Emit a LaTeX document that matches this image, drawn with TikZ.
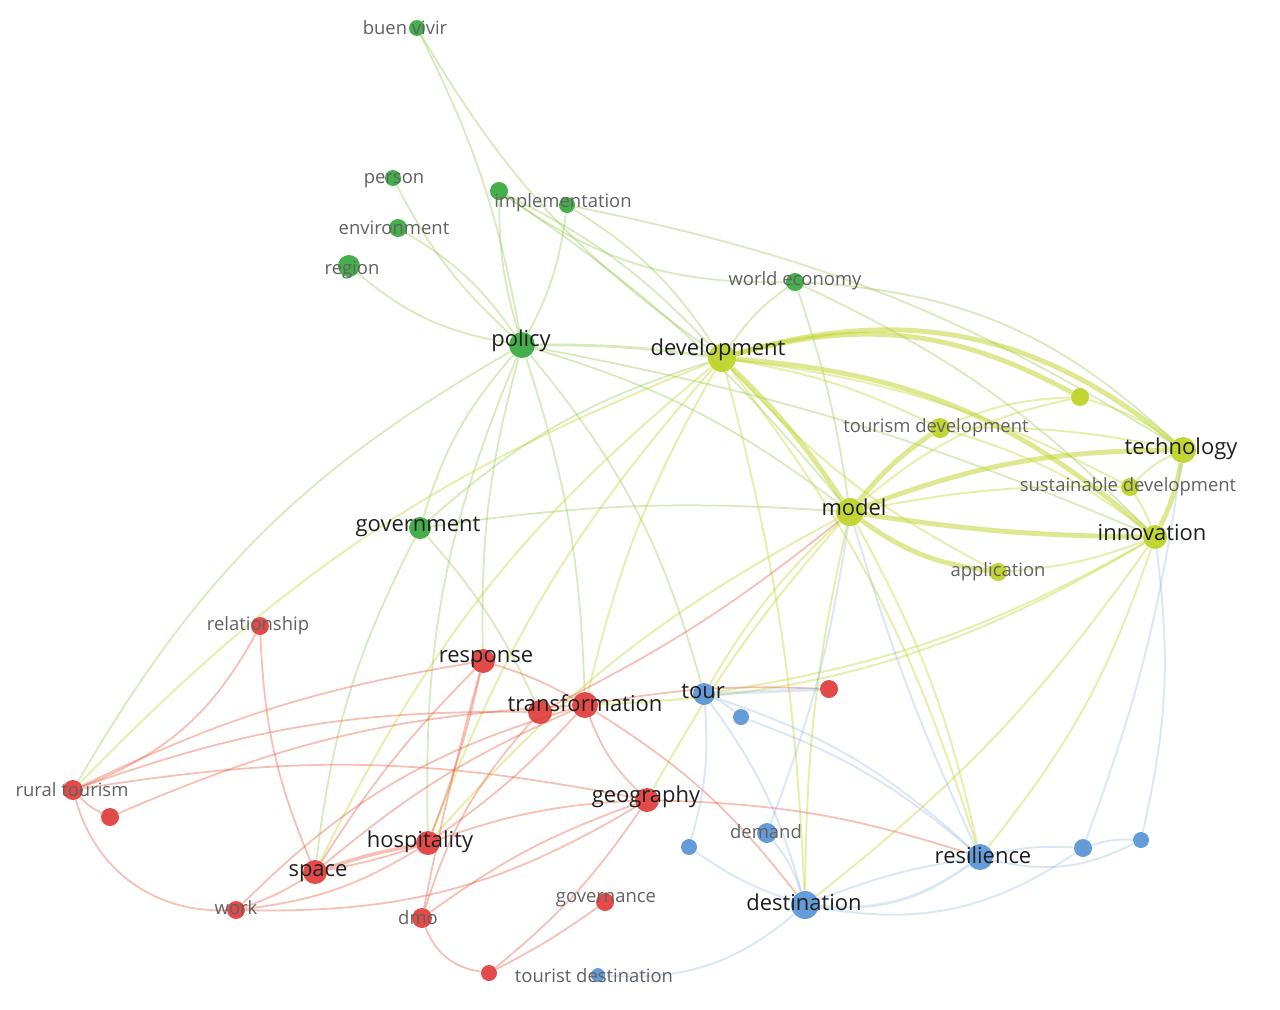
\documentclass[tikz,border=0pt]{standalone}
\usepackage{fontspec}
\setmainfont{Open Sans}
\definecolor{vgreen}{RGB}{52,168,60}
\definecolor{vyellow}{RGB}{188,210,36}
\definecolor{vred}{RGB}{224,60,58}
\definecolor{vblue}{RGB}{88,148,212}
\pgfdeclarelayer{bg}
\pgfsetlayers{bg,main}
\tikzset{
  kw/.style={circle, inner sep=0pt, minimum size=#1, fill opacity=.92},
  gk/.style={kw=#1, fill=vgreen},
  yk/.style={kw=#1, fill=vyellow},
  rk/.style={kw=#1, fill=vred},
  bk/.style={kw=#1, fill=vblue},
  lbig/.style={font=\fontsize{12.5}{14}\selectfont, text=black!88, inner sep=0pt},
  lsmall/.style={font=\fontsize{10.5}{12}\selectfont, text=black!62, inner sep=0pt},
  ge/.style={draw=vgreen!45!vyellow, line width=1pt, opacity=.32},
  ye/.style={draw=vyellow!90, line width=1.1pt, opacity=.42},
  yt/.style={draw=vyellow, line width=2.8pt, opacity=.5},
  re/.style={draw=vred!75!orange, line width=1pt, opacity=.36},
  be/.style={draw=vblue!80, line width=1.1pt, opacity=.28}
}
\begin{document}
\begin{tikzpicture}[x=0.02cm, y=-0.02cm]
  \useasboundingbox (0,0) rectangle (1280,1009);
  % green cluster
  \node[gk=.32cm] (buenvivir) at (417,28) {};
  \node[gk=.32cm] (person) at (393,178) {};
  \node[gk=.36cm] (implA) at (499,191) {};
  \node[gk=.32cm] (implB) at (567,205) {};
  \node[gk=.36cm] (environment) at (398,228) {};
  \node[gk=.44cm] (region) at (349,266) {};
  \node[gk=.36cm] (worldeconomy) at (795,282) {};
  \node[gk=.52cm] (policy) at (522,345) {};
  \node[gk=.44cm] (government) at (420,528) {};
  % yellow cluster
  \node[yk=.56cm] (development) at (722,358) {};
  \node[yk=.36cm] (ylone) at (1080,397) {};
  \node[yk=.40cm] (tourismdev) at (940,428) {};
  \node[yk=.52cm] (technology) at (1183,450) {};
  \node[yk=.36cm] (sustdev) at (1130,487) {};
  \node[yk=.56cm] (model) at (850,512) {};
  \node[yk=.48cm] (innovation) at (1155,537) {};
  \node[yk=.36cm] (application) at (998,572) {};
  % red cluster
  \node[rk=.36cm] (relationship) at (260,626) {};
  \node[rk=.48cm] (response) at (483,661) {};
  \node[rk=.48cm] (transA) at (540,712) {};
  \node[rk=.52cm] (transB) at (585,705) {};
  \node[rk=.36cm] (rlone) at (829,689) {};
  \node[rk=.40cm] (ruraltourism) at (73,790) {};
  \node[rk=.36cm] (rsmall) at (110,817) {};
  \node[rk=.48cm] (geography) at (647,800) {};
  \node[rk=.48cm] (hospitality) at (428,843) {};
  \node[rk=.48cm] (space) at (315,872) {};
  \node[rk=.36cm] (work) at (236,910) {};
  \node[rk=.40cm] (dmo) at (422,918) {};
  \node[rk=.36cm] (governance) at (605,902) {};
  \node[rk=.32cm] (tdred) at (489,973) {};
  % blue cluster
  \node[bk=.44cm] (tour) at (704,694) {};
  \node[bk=.32cm] (bsmall) at (741,717) {};
  \node[bk=.32cm] (bleft) at (689,847) {};
  \node[bk=.40cm] (demand) at (767,833) {};
  \node[bk=.52cm] (resilience) at (980,857) {};
  \node[bk=.36cm] (bright) at (1083,848) {};
  \node[bk=.32cm] (bfar) at (1141,840) {};
  \node[bk=.56cm] (destination) at (805,905) {};
  \node[bk=.28cm] (tdblue) at (598,975) {};

  \begin{pgfonlayer}{bg}
    % green links
    \draw[ge] (buenvivir) to[bend left=8] (policy);
    \draw[ge] (buenvivir) to[bend right=12] (development);
    \draw[ge] (implA) to[bend right=8] (policy);
    \draw[ge] (implA) to[bend left=10] (development);
    \draw[ge] (implA) to[bend right=18] (worldeconomy);
    \draw[ge] (implA) to[bend left=8] (model);
    \draw[ge] (implB) to[bend left=10] (policy);
    \draw[ge] (implB) to[bend left=12] (development);
    \draw[ge] (implB) to[bend left=10] (technology);
    \draw[ge] (person) to[bend right=10] (policy);
    \draw[ge] (environment) to[bend left=12] (policy);
    \draw[ge] (region) to[bend right=15] (policy);
    \draw[ge] (worldeconomy) to[bend right=10] (development);
    \draw[ge] (worldeconomy) to[bend left=5] (model);
    \draw[ge] (worldeconomy) to[bend left=20] (technology);
    \draw[ge] (worldeconomy) to[bend left=10] (innovation);
    \draw[ge, line width=1.6pt] (policy) to[bend left=4] (development);
    \draw[ge] (policy) to[bend right=12] (government);
    \draw[ge] (policy) to[bend right=8] (response);
    \draw[ge] (policy) to[bend left=8] (transB);
    \draw[ge] (policy) to[bend left=10] (model);
    \draw[ge] (policy) to[bend left=6] (innovation);
    \draw[ge] (policy) to[bend right=15] (ruraltourism);
    \draw[ge] (policy) to[bend right=12] (hospitality);
    \draw[ge] (policy) to[bend left=12] (tour);
    \draw[ge] (government) to[bend right=10] (space);
    \draw[ge] (government) to[bend left=8] (transA);
    \draw[ge] (government) to[bend left=12] (development);
    \draw[ge] (government) to[bend left=6] (model);
    % yellow links
    \draw[yt] (development) to[bend left=6] (model);
    \draw[yt] (development) to[bend left=28] (technology);
    \draw[yt] (development) to[bend left=18] (innovation);
    \draw[yt] (development) to[bend left=22] (ylone);
    \draw[ye] (development) to[bend left=8] (tourismdev);
    \draw[ye] (development) to[bend left=10] (sustdev);
    \draw[ye] (development) to[bend right=10] (application);
    \draw[ye] (development) to[bend right=8] (transB);
    \draw[ye] (development) to[bend right=10] (hospitality);
    \draw[ye] (development) to[bend right=12] (space);
    \draw[ye] (development) to[bend right=12] (ruraltourism);
    \draw[ye] (development) to[bend left=6] (destination);
    \draw[ye] (development) to[bend left=10] (resilience);
    \draw[yt] (model) to[bend left=8] (tourismdev);
    \draw[yt] (model) to[bend left=10] (technology);
    \draw[yt] (model) to[bend right=4] (innovation);
    \draw[yt] (model) to[bend right=14] (application);
    \draw[ye] (model) to[bend left=6] (sustdev);
    \draw[ye] (model) to[bend left=14] (ylone);
    \draw[ye] (model) to[bend right=6] (destination);
    \draw[ye] (model) to[bend left=8] (resilience);
    \draw[ye] (model) to[bend right=8] (tour);
    \draw[ye] (model) to[bend right=10] (hospitality);
    \draw[ye] (model) to[bend right=6] (geography);
    \draw[ye] (tourismdev) to[bend left=6] (technology);
    \draw[ye] (tourismdev) to[bend left=10] (innovation);
    \draw[ye] (tourismdev) to[bend left=10] (ylone);
    \draw[yt] (technology) to[bend left=8] (innovation);
    \draw[ye] (technology) to[bend right=10] (sustdev);
    \draw[ye] (technology) to[bend right=10] (ylone);
    \draw[ye] (innovation) to[bend left=8] (application);
    \draw[ye] (innovation) to[bend left=10] (resilience);
    \draw[ye] (innovation) to[bend left=8] (destination);
    \draw[ye] (innovation) to[bend left=10] (tour);
    \draw[ye] (innovation) to[bend left=14] (transB);
    \draw[ye] (sustdev) to[bend left=6] (innovation);
    % red links
    \draw[re] (relationship) to[bend left=20] (ruraltourism);
    \draw[re] (relationship) to[bend right=10] (space);
    \draw[re] (response) to[bend left=6] (transB);
    \draw[re] (response) to[bend left=4] (hospitality);
    \draw[re] (response) to[bend right=6] (space);
    \draw[re] (response) to[bend right=8] (ruraltourism);
    \draw[re] (response) to[bend right=2] (dmo);
    \draw[re] (transA) to[bend right=10] (ruraltourism);
    \draw[re] (transB) to[bend right=10] (rsmall);
    \draw[re] (transB) to[bend right=12] (geography);
    \draw[re] (transB) to[bend left=6] (hospitality);
    \draw[re] (transB) to[bend right=8] (space);
    \draw[re] (transB) to[bend right=14] (work);
    \draw[re] (transB) to[bend left=10] (destination);
    \draw[re] (transB) to[bend left=6] (rlone);
    \draw[re] (transA) to[bend right=6] (model);
    \draw[re] (transA) to[bend right=12] (dmo);
    \draw[re] (ruraltourism) to[bend right=38] (work);
    \draw[re] (ruraltourism) to[bend left=10] (geography);
    \draw[re] (ruraltourism) to[bend right=10] (rsmall);
    \draw[re, line width=2pt] (space) to[bend left=4] (hospitality);
    \draw[re] (space) to[bend right=4] (hospitality);
    \draw[re] (space) to[bend left=6] (work);
    \draw[re] (hospitality) to[bend left=12] (work);
    \draw[re] (hospitality) to[bend left=8] (geography);
    \draw[re] (work) to[bend right=16] (geography);
    \draw[re] (dmo) to[bend right=30] (tdred);
    \draw[re] (dmo) to[bend left=8] (geography);
    \draw[re] (governance) to[bend left=4] (tdred);
    \draw[re] (tdred) to[bend right=8] (geography);
    \draw[re] (geography) to[bend left=8] (resilience);
    % blue links
    \draw[be, line width=1.8pt] (tour) -- (rlone);
    \draw[be] (tour) to[bend left=8] (bsmall);
    \draw[be] (tour) to[bend left=10] (destination);
    \draw[be] (tour) to[bend left=12] (resilience);
    \draw[be] (bsmall) to[bend left=10] (resilience);
    \draw[be] (destination) to[bend left=6] (resilience);
    \draw[be, line width=1.6pt] (destination) to[bend right=20] (resilience);
    \draw[be] (destination) to[bend right=22] (bright);
    \draw[be] (destination) to[bend right=10] (demand);
    \draw[be] (destination) to[bend left=22] (tdblue);
    \draw[be] (destination) to[bend left=8] (bleft);
    \draw[be] (resilience) to[bend left=8] (bright);
    \draw[be] (resilience) to[bend right=20] (bfar);
    \draw[be] (bright) to[bend left=10] (bfar);
    \draw[be] (resilience) to[bend left=4] (model);
    \draw[be] (bright) to[bend right=6] (technology);
    \draw[be] (bfar) to[bend right=10] (innovation);
    \draw[be] (demand) to[bend right=6] (model);
    \draw[be] (bleft) to[bend right=10] (tour);
  \end{pgfonlayer}

  % labels
  \node[lsmall] (lbuenvivir) at (405,28) {buen vivir};
  \node[lsmall] (lperson) at (394,181) {person};
  \node[lsmall] (limpl) at (563,203) {implementation};
  \node[lsmall] (lenvironment) at (394,228) {environment};
  \node[lsmall] (lregion) at (352,270) {region};
  \node[lsmall] (lworldeconomy) at (795,281) {world economy};
  \node[lbig] (lpolicy) at (521,341) {policy};
  \node[lbig] (ldevelopment) at (718,350) {development};
  \node[lsmall] (ltourismdev) at (936,428) {tourism development};
  \node[lbig] (ltechnology) at (1181,449) {technology};
  \node[lsmall] (lsustdev) at (1128,487) {sustainable development};
  \node[lbig] (lmodel) at (854,507) {model};
  \node[lbig] (linnovation) at (1152,533) {innovation};
  \node[lsmall] (lapplication) at (998,572) {application};
  \node[lbig] (lgovernment) at (418,527) {government};
  \node[lsmall] (lrelationship) at (258,626) {relationship};
  \node[lbig] (lresponse) at (486,659) {response};
  \node[lbig] (ltransformation) at (585,703) {transformation};
  \node[lbig] (ltour) at (703,691) {tour};
  \node[lsmall] (lruraltourism) at (72,790) {rural tourism};
  \node[lbig] (lgeography) at (646,797) {geography};
  \node[lsmall] (ldemand) at (766,832) {demand};
  \node[lbig] (lhospitality) at (420,842) {hospitality};
  \node[lbig] (lresilience) at (983,855) {resilience};
  \node[lbig] (lspace) at (318,873) {space};
  \node[lsmall] (lwork) at (236,908) {work};
  \node[lsmall] (ldmo) at (418,918) {dmo};
  \node[lsmall] (lgovernance) at (606,900) {governance};
  \node[lbig] (ldestination) at (804,902) {destination};
  \node[lsmall] (ltouristdest) at (594,976) {tourist destination};
\end{tikzpicture}
\end{document}
